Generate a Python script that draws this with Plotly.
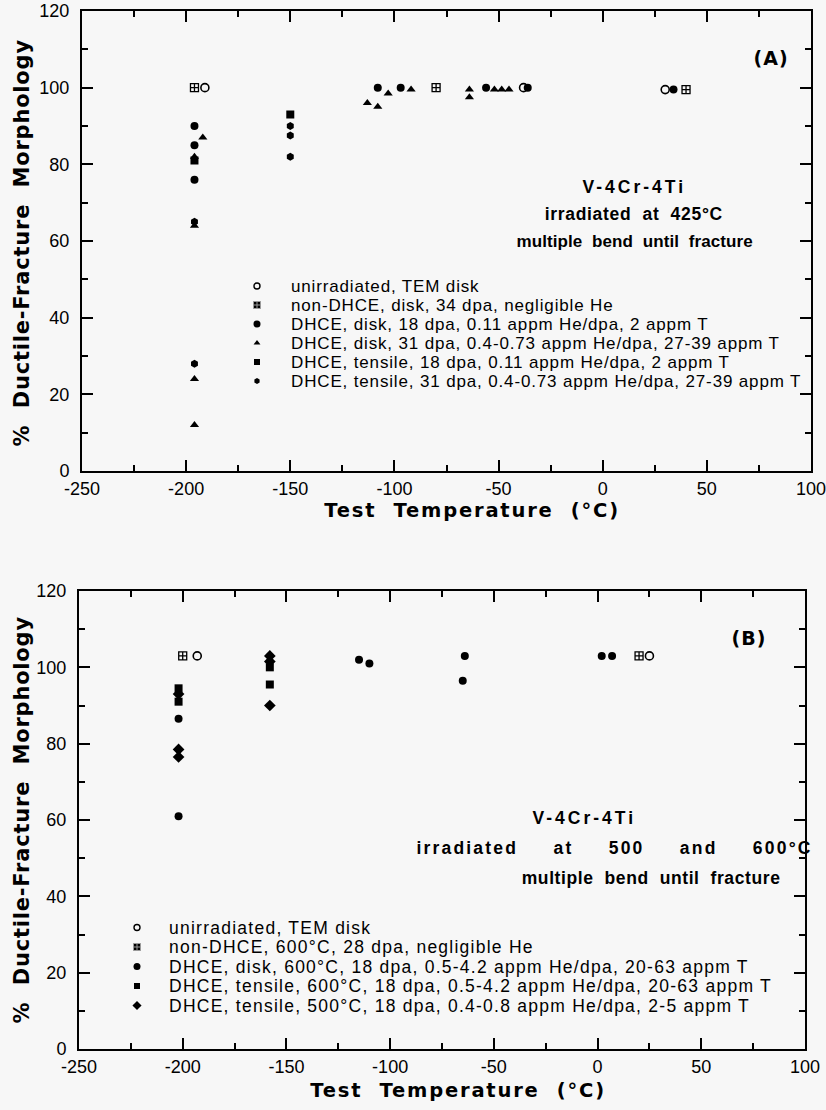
import plotly.graph_objects as go

# ---------------- Panel (A): irradiated at 425°C ----------------
a_unirr_T = [-191, -38, 30]
a_unirr_M = [100, 100, 99.5]
a_nondhce_T = [-196, -80, 40]
a_nondhce_M = [100, 100, 99.5]
a_disk18_T = [-196, -196, -196, -108, -97, -56, -36, 34]
a_disk18_M = [90, 85, 76, 100, 100, 100, 100, 99.5]
a_disk31_T = [-192, -196, -196, -196, -196, -113, -108, -103, -92, -64, -64, -52, -48.5, -45]
a_disk31_M = [87, 82, 64, 24, 12, 96, 95, 98.5, 99.5, 99.5, 97.5, 99.5, 99.5, 99.5]
a_tens18_T = [-196, -150]
a_tens18_M = [81, 93]
a_tens31_T = [-196, -196, -150, -150, -150]
a_tens31_M = [65, 28, 90, 87.5, 82]

a_labels = [
    "unirradiated, TEM disk",
    "non-DHCE, disk, 34 dpa, negligible He",
    "DHCE, disk, 18 dpa, 0.11 appm He/dpa, 2 appm T",
    "DHCE, disk, 31 dpa, 0.4-0.73 appm He/dpa, 27-39 appm T",
    "DHCE, tensile, 18 dpa, 0.11 appm He/dpa, 2 appm T",
    "DHCE, tensile, 31 dpa, 0.4-0.73 appm He/dpa, 27-39 appm T",
]
a_title = ["V-4Cr-4Ti", "irradiated  at  425°C", "multiple  bend  until  fracture"]

# ---------------- Panel (B): irradiated at 500 and 600°C ----------------
b_unirr_T = [-193, 25]
b_unirr_M = [103, 103]
b_nondhce_T = [-200, 20]
b_nondhce_M = [103, 103]
b_disk600_T = [-202, -202, -115, -110, -64, -65, 2, 7]
b_disk600_M = [86.5, 61, 102, 101, 103, 96.5, 103, 103]
b_tens600_T = [-202, -202, -158, -158]
b_tens600_M = [94.5, 91, 100, 95.5]
b_tens500_T = [-202, -202, -202, -158, -158, -158]
b_tens500_M = [93, 78.5, 76.5, 103, 101.5, 90]

b_labels = [
    "unirradiated, TEM disk",
    "non-DHCE, 600°C, 28 dpa, negligible He",
    "DHCE, disk, 600°C, 18 dpa, 0.5-4.2 appm He/dpa, 20-63 appm T",
    "DHCE, tensile, 600°C, 18 dpa, 0.5-4.2 appm He/dpa, 20-63 appm T",
    "DHCE, tensile, 500°C, 18 dpa, 0.4-0.8 appm He/dpa, 2-5 appm T",
]
b_title = ["V-4Cr-4Ti", "irradiated     at     500     and     600°C", "multiple  bend  until  fracture"]

# ---------------- axes ----------------
x_tickvals = [-250, -200, -150, -100, -50, 0, 50, 100]
x_ticktext = ["-250", "-200", "-150", "-100", "-50", "0", "50", "100"]
x_minorvals = [-225, -175, -125, -75, -25, 25, 75]
y_tickvals = [0, 20, 40, 60, 80, 100, 120]
y_ticktext = ["0", "20", "40", "60", "80", "100", "120"]
y_minorvals = [10, 30, 50, 70, 90, 110]
x_range = [-250, 100]
y_range = [0, 120]
x_title = "Test  Temperature  (°C)"
y_title = "%  Ductile-Fracture  Morphology"

W, H = 826, 1110
BG = "#f7f7f7"
INK = "black"
SANS = "Liberation Sans"
WIDE = "DejaVu Sans"


def fx(p):
    return p / W


def fy(p):
    return 1 - p / H


# marker styles for the data points and for the legend keys
STY = {
    "open": dict(symbol="circle-open", size=8, color=INK, line=dict(width=1.6, color=INK)),
    "grid": dict(symbol="square-cross-open", size=8, color=INK, line=dict(width=1.3, color=INK)),
    "dot": dict(symbol="circle", size=8, color=INK),
    "tri": dict(symbol="triangle-up", size=8, color=INK),
    "sq": dict(symbol="square", size=8, color=INK),
    "hex": dict(symbol="hexagon", size=8, color=INK),
    "dia": dict(symbol="diamond", size=9, color=INK),
}
LEG = {
    "open": dict(symbol="circle-open", size=6, color=INK, line=dict(width=1.4, color=INK)),
    "grid": dict(symbol="square-cross", size=7, color=INK, line=dict(width=1, color="#9a9a9a")),
    "dot": dict(symbol="circle", size=7, color=INK),
    "tri": dict(symbol="triangle-up", size=6, color=INK),
    "sq": dict(symbol="square", size=6, color=INK),
    "hex": dict(symbol="hexagon", size=6, color=INK),
    "dia": dict(symbol="diamond", size=7, color=INK),
}

a_series = [
    (a_unirr_T, a_unirr_M, "open"),
    (a_nondhce_T, a_nondhce_M, "grid"),
    (a_disk18_T, a_disk18_M, "dot"),
    (a_disk31_T, a_disk31_M, "tri"),
    (a_tens18_T, a_tens18_M, "sq"),
    (a_tens31_T, a_tens31_M, "hex"),
]
b_series = [
    (b_unirr_T, b_unirr_M, "open"),
    (b_nondhce_T, b_nondhce_M, "grid"),
    (b_disk600_T, b_disk600_M, "dot"),
    (b_tens600_T, b_tens600_M, "sq"),
    (b_tens500_T, b_tens500_M, "dia"),
]

fig = go.Figure()

for (xs, ys, k), lab in zip(a_series, a_labels):
    fig.add_trace(go.Scatter(x=xs, y=ys, mode="markers", marker=STY[k], name=lab,
                             xaxis="x", yaxis="y", showlegend=False, cliponaxis=False))
for (xs, ys, k), lab in zip(b_series, b_labels):
    fig.add_trace(go.Scatter(x=xs, y=ys, mode="markers", marker=STY[k], name=lab,
                             xaxis="x2", yaxis="y2", showlegend=False, cliponaxis=False))

# legend keys: one row per series on a small hidden axis pair
for i, (_, _, k) in enumerate(a_series):
    fig.add_trace(go.Scatter(x=[0], y=[i], mode="markers", marker=LEG[k], xaxis="x3", yaxis="y3",
                             showlegend=False, cliponaxis=False, hoverinfo="skip"))
for i, (_, _, k) in enumerate(b_series):
    fig.add_trace(go.Scatter(x=[0], y=[i], mode="markers", marker=LEG[k], xaxis="x4", yaxis="y4",
                             showlegend=False, cliponaxis=False, hoverinfo="skip"))

# empty traces that bring the minor-tick overlay axes to life
for xa, ya in (("x5", "y5"), ("x6", "y6")):
    fig.add_trace(go.Scatter(x=[None], y=[None], mode="markers", xaxis=xa, yaxis=ya,
                             showlegend=False, hoverinfo="skip"))


def frame_axis(dom, rng, tv, tt, anchor, standoff=0):
    return dict(
        domain=dom, range=rng, anchor=anchor, autorange=False,
        tickmode="array", tickvals=tv, ticktext=tt,
        ticks="inside", ticklen=11, tickwidth=2, tickcolor=INK,
        showline=True, linewidth=2, linecolor=INK, mirror="allticks",
        showgrid=False, zeroline=False, automargin=False, ticklabeloverflow="allow",
        ticklabelstandoff=standoff,
        tickfont=dict(family=SANS, size=18, color=INK),
    )


def minor_axis(dom, rng, tv, anchor, over):
    return dict(
        domain=dom, range=rng, anchor=anchor, overlaying=over, autorange=False,
        tickmode="array", tickvals=tv, showticklabels=False,
        ticks="inside", ticklen=6, tickwidth=1.6, tickcolor=INK,
        showline=False, mirror="allticks", showgrid=False, zeroline=False,
        fixedrange=True, automargin=False,
    )


def key_axes(x0, x1, top, bottom, n):
    xa = dict(domain=[fx(x0), fx(x1)], range=[0, 1], visible=False, fixedrange=True)
    ya = dict(domain=[fy(bottom), fy(top)], range=[n - 0.5, -0.5], visible=False, fixedrange=True)
    return xa, ya


# pixel frames of the two panels
A_X, A_Y = (82, 811), (11, 471)
B_X, B_Y = (79, 805), (591, 1049)
a_xdom, a_ydom = [fx(A_X[0]), fx(A_X[1])], [fy(A_Y[1]), fy(A_Y[0])]
b_xdom, b_ydom = [fx(B_X[0]), fx(B_X[1])], [fy(B_Y[1]), fy(B_Y[0])]

xa3, ya3 = key_axes(257, 289, 286 - 9.5, 381 + 9.5, len(a_labels))
xa4, ya4 = key_axes(137, 167, 927.5 - 9.75, 1005.5 + 9.75, len(b_labels))
xa3["anchor"], ya3["anchor"] = "y3", "x3"
xa4["anchor"], ya4["anchor"] = "y4", "x4"

annotations = []
spacing = []


def note(text, x, y, size, family=SANS, bold=True, xref="paper", yref="paper",
         xanchor="center", align="center", angle=0, track=0.0):
    annotations.append(dict(
        text=text, x=x, y=y, xref=xref, yref=yref, xanchor=xanchor, yanchor="middle",
        align=align, showarrow=False, textangle=angle,
        font=dict(family=family, size=size, color=INK, weight="bold" if bold else "normal"),
    ))
    spacing.append(track)


# legend texts
for i, lab in enumerate(a_labels):
    note(lab, 1, i, 17, bold=False, xref="x3", yref="y3",
         xanchor="left", align="left", track=0.85)
for i, lab in enumerate(b_labels):
    note(lab, 1, i, 17.5, bold=False, xref="x4", yref="y4",
         xanchor="left", align="left", track=1.25)

# panel labels
note("(A)", fx(771), fy(58), 19, family=WIDE, track=1)
note("(B)", fx(749), fy(638), 19, family=WIDE, track=1)

# headings inside the panels
note(a_title[0], fx(634), fy(187), 17.5, track=3)
note(a_title[1], fx(634), fy(214), 17.5, track=0.7)
note(a_title[2], fx(634), fy(241), 17, track=0.1)
note(b_title[0], fx(584), fy(818), 17.5, track=3)
note(b_title[1], fx(815), fy(848), 17.5, xanchor="right", align="right", track=2.2)
note(b_title[2], fx(651), fy(878), 17.5, track=0.6)

# axis titles
note(x_title, fx(472), fy(510.5), 19.5, family=WIDE, track=1.8)
note(x_title, fx(458), fy(1090), 19.5, family=WIDE, track=1.8)
note(y_title, fx(22), fy(243), 21, family=WIDE, angle=-90, track=0.8)
note(y_title, fx(22), fy(820), 21, family=WIDE, angle=-90, track=0.8)

fig.update_layout(
    template="none",
    width=W, height=H,
    margin=dict(l=0, r=0, t=0, b=0, pad=0),
    paper_bgcolor=BG, plot_bgcolor=BG,
    showlegend=False,
    xaxis=frame_axis(a_xdom, x_range, x_tickvals, x_ticktext, "y"),
    yaxis=frame_axis(a_ydom, y_range, y_tickvals, y_ticktext, "x", standoff=7),
    xaxis2=frame_axis(b_xdom, x_range, x_tickvals, x_ticktext, "y2"),
    yaxis2=frame_axis(b_ydom, y_range, y_tickvals, y_ticktext, "x2", standoff=7),
    xaxis3=xa3, yaxis3=ya3, xaxis4=xa4, yaxis4=ya4,
    xaxis5=minor_axis(a_xdom, x_range, x_minorvals, "y5", "x"),
    yaxis5=minor_axis(a_ydom, y_range, y_minorvals, "x5", "y"),
    xaxis6=minor_axis(b_xdom, x_range, x_minorvals, "y6", "x2"),
    yaxis6=minor_axis(b_ydom, y_range, y_minorvals, "x6", "y2"),
    annotations=annotations,
)

# letter spacing for the tracked lettering
track_js = (
    "var sp=" + str(spacing) + ";"
    "document.querySelectorAll('g.annotation').forEach(function(g){"
    "var i=+g.getAttribute('data-index');"
    "var t=g.querySelector('text.annotation-text');"
    "if(t&&sp[i]){t.style.letterSpacing=sp[i]+'px';}"
    "});"
)

fig.write_html("out.html", post_script=track_js)
